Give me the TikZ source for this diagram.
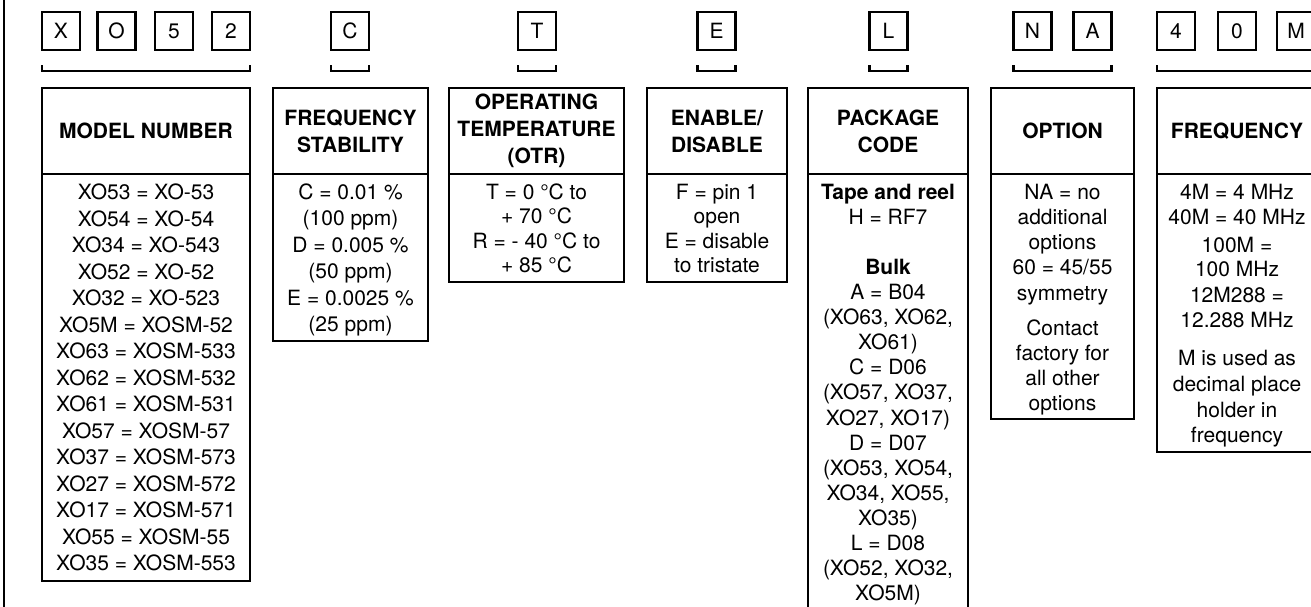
\documentclass[tikz,border=0pt]{standalone}
\usepackage{fontspec}
\setmainfont{TeX Gyre Heros}
\begin{document}
\begin{tikzpicture}[x=1pt,y=-1pt,
  every node/.style={inner sep=0pt, outer sep=0pt},
  frame/.style={draw=black, line width=2.2pt},
  letterbox/.style={draw=black, line width=2.1pt, minimum width=38pt, minimum height=38pt, font=\fontsize{21}{23}\selectfont},
  hdr/.style={draw=black, line width=2.2pt, align=center, minimum height=86pt, font=\fontsize{21}{27}\selectfont\bfseries},
  bodyline/.style={anchor=base, font=\fontsize{21}{25}\selectfont},
  bracket/.style={draw=black, line width=2.2pt}]
\useasboundingbox (0,0) rectangle (1311,606);
\clip (0,0) rectangle (1311,606);

% left rule
\draw[frame] (4,-5) -- (4,615);

% letter boxes
\node[letterbox] (lX) at (61,31) {X};
\node[letterbox] (lO) at (116.5,31) {O};
\node[letterbox] (l5) at (174,31) {5};
\node[letterbox] (l2) at (231,31) {2};
\node[letterbox] (lC) at (350,31) {C};
\node[letterbox] (lT) at (537,31) {T};
\node[letterbox] (lE) at (716.5,31) {E};
\node[letterbox] (lL) at (888.5,31) {L};
\node[letterbox] (lN) at (1032.5,31) {N};
\node[letterbox] (lA) at (1092.5,31) {A};
\node[letterbox] (l4) at (1176,31) {4};
\node[letterbox] (l0) at (1237,31) {0};
\node[letterbox] (lM) at (1296,31) {M};

% brackets
\coordinate (bt) at (0,65);
\coordinate (bb) at (0,71);
\draw[bracket] (lX.west |- bt) -- (lX.west |- bb) -- (l2.east |- bb) -- (l2.east |- bt);
\draw[bracket] (lC.west |- bt) -- (lC.west |- bb) -- (lC.east |- bb) -- (lC.east |- bt);
\draw[bracket] (lT.west |- bt) -- (lT.west |- bb) -- (lT.east |- bb) -- (lT.east |- bt);
\draw[bracket] (lE.west |- bt) -- (lE.west |- bb) -- (lE.east |- bb) -- (lE.east |- bt);
\draw[bracket] (lL.west |- bt) -- (lL.west |- bb) -- (lL.east |- bb) -- (lL.east |- bt);
\draw[bracket] (lN.west |- bt) -- (lN.west |- bb) -- (lA.east |- bb) -- (lA.east |- bt);
\draw[bracket] (l4.west |- bt) -- (l4.west |- bb) -- (lM.east |- bb) -- (lM.east |- bt);

% header boxes
\node[hdr, minimum width=208pt] (hModel) at (146,131) {MODEL NUMBER};
\node[hdr, minimum width=155pt] (hStab) at (350.5,131) {FREQUENCY\\STABILITY};
\node[hdr, minimum width=175pt] (hTemp) at (536.5,131) {OPERATING\\TEMPERATURE\\(OTR)};
\node[hdr, minimum width=140pt] (hEn) at (717,131) {ENABLE/\\DISABLE};
\node[hdr, minimum width=160pt] (hPkg) at (888,131) {PACKAGE\\CODE};
\node[hdr, minimum width=143pt] (hOpt) at (1062.5,131) {OPTION};
\node[hdr, minimum width=160pt] (hFreq) at (1237,131) {FREQUENCY};

% body boxes
\node[frame, minimum width=208pt, minimum height=407pt] (bModel) at (146,377.5) {};
\node[frame, minimum width=155pt, minimum height=167pt] (bStab) at (350.5,257.5) {};
\node[frame, minimum width=175pt, minimum height=108pt] (bTemp) at (536.5,228) {};
\node[frame, minimum width=140pt, minimum height=108pt] (bEn) at (717,228) {};
\node[frame, minimum width=160pt, minimum height=456pt] (bPkg) at (888,402) {};
\node[frame, minimum width=143pt, minimum height=245pt] (bOpt) at (1062.5,296.5) {};
\node[frame, minimum width=160pt, minimum height=278pt] (bFreq) at (1237,313) {};

% body texts
\foreach \t [count=\i from 0] in {XO53 = XO-53, XO54 = XO-54, XO34 = XO-543, XO52 = XO-52, XO32 = XO-523, XO5M = XOSM-52, XO63 = XOSM-533, XO62 = XOSM-532, XO61 = XOSM-531, XO57 = XOSM-57, XO37 = XOSM-573, XO27 = XOSM-572, XO17 = XOSM-571, XO55 = XOSM-55, XO35 = XOSM-553}
  \node[bodyline] (m\i) at (146,199.5+26.5*\i) {\t};

\foreach \t [count=\i from 0] in {C = 0.01 \%, (100 ppm), D = 0.005 \%, (50 ppm), E = 0.0025 \%, (25 ppm)}
  \node[bodyline] (s\i) at (350.5,199.5+26.4*\i) {\t};

\foreach \t [count=\i from 0] in {T = 0 °C to, + 70 °C, R = - 40 °C to, + 85 °C}
  \node[bodyline] (t\i) at (536.5,199.5+24.3*\i) {\t};

\foreach \t [count=\i from 0] in {F = pin 1, open, E = disable, to tristate}
  \node[bodyline] (e\i) at (717,199.5+24.3*\i) {\t};

\foreach \k/\t in {0/{\bfseries Tape and reel}, 1/{H = RF7}, 3/{\bfseries Bulk}, 4/{A = B04}, 5/{(XO63, XO62,}, 6/{XO61)}, 7/{C = D06}, 8/{(XO57, XO37,}, 9/{XO27, XO17)}, 10/{D = D07}, 11/{(XO53, XO54,}, 12/{XO34, XO55,}, 13/{XO35)}, 14/{L = D08}, 15/{(XO52, XO32,}, 16/{XO5M)}}
  \node[bodyline] (p\k) at (888,199.5+25.06*\k) {\t};

\foreach \y/\t [count=\i] in {192/{NA = no}, 217/{additional}, 242/{options}, 267/{60 = 45/55}, 293/{symmetry}, 328/{Contact}, 353/{factory for}, 378/{all other}, 403/{options}}
  \node[bodyline] (o\i) at (1062.5,\y+7.5) {\t};

\foreach \y/\t [count=\i] in {192/{4M = 4 MHz}, 217/{40M = 40 MHz}, 245/{100M =}, 269/{100 MHz}, 295/{12M288 =}, 320/{12.288 MHz}, 358/{M is used as}, 384/{decimal place}, 410/{holder in}, 435/{frequency}}
  \node[bodyline] (f\i) at (1237,\y+7.5) {\t};

\end{tikzpicture}
\end{document}
